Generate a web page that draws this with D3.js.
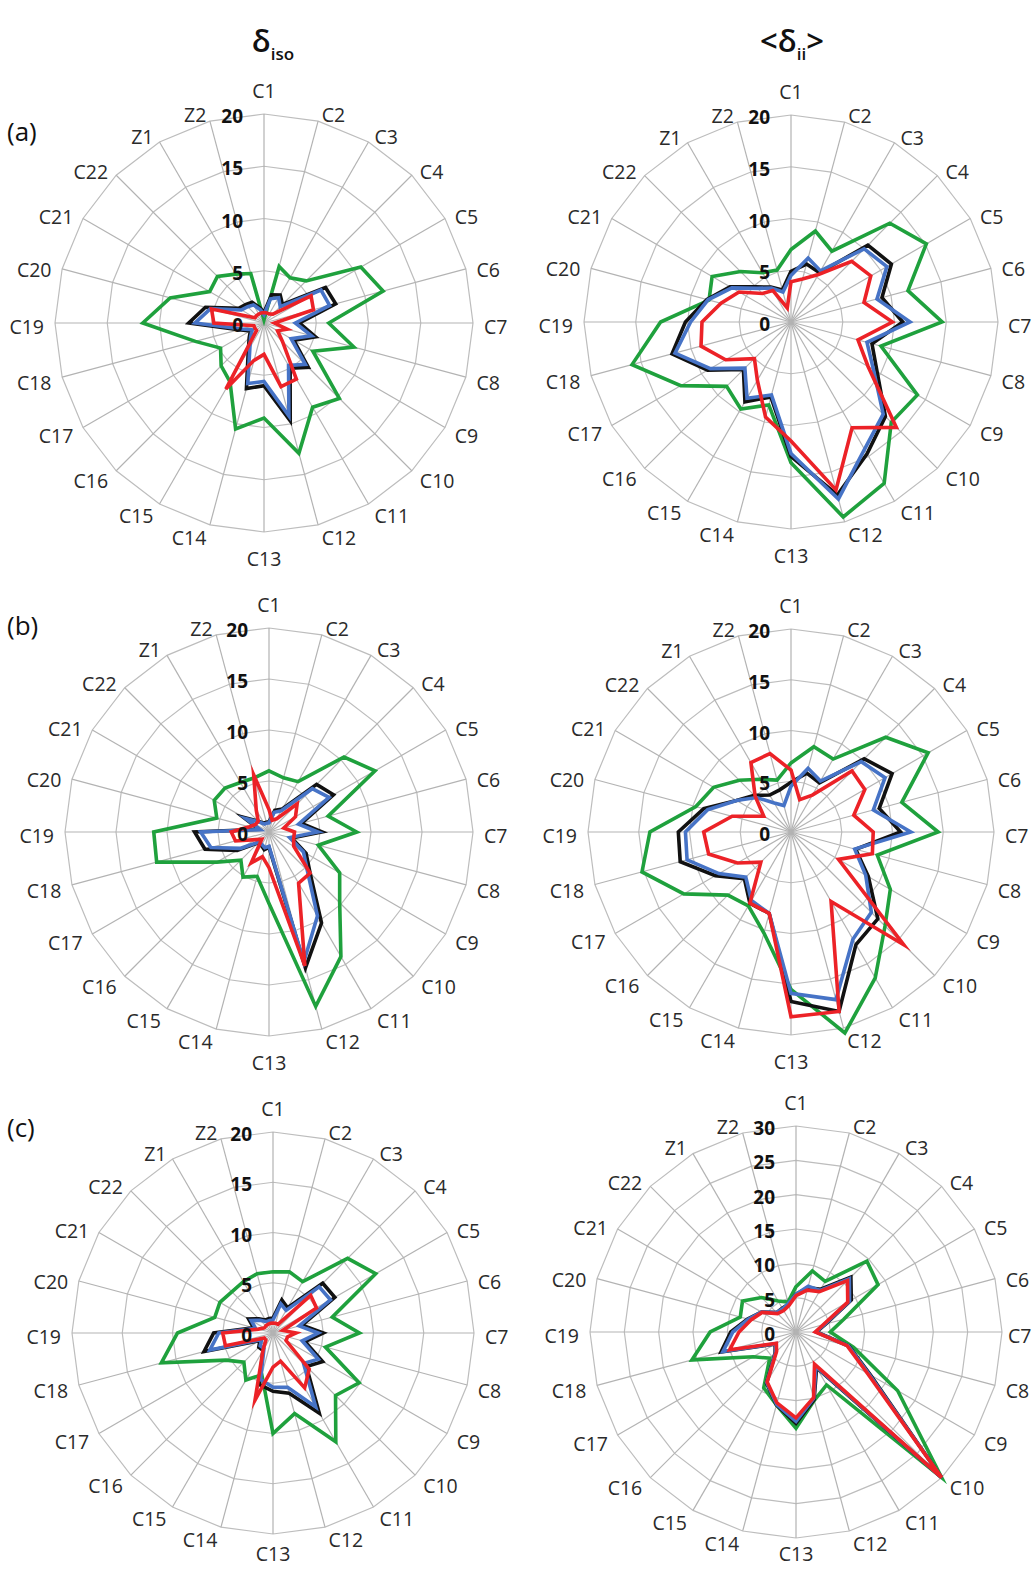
<!DOCTYPE html>
<html><head><meta charset="utf-8">
<script src="https://cdn.jsdelivr.net/npm/d3@7"></script>
<style>body{margin:0;background:#fff} svg{display:block}</style>
</head><body>
<svg id="chart" width="1035" height="1573"></svg>
<script>
// ---------- categories & ticks ----------
const categories = ["C1","C2","C3","C4","C5","C6","C7","C8","C9","C10","C11","C12","C13","C14","C15","C16","C17","C18","C19","C20","C21","C22","Z1","Z2"];
const ticks20 = [0,5,10,15,20];
const ticks30 = [0,5,10,15,20,25,30];
const seriesOrder = ["green","black","blue","red"];
const seriesColors = {green:"#1fa13d", black:"#111111", blue:"#4673c6", red:"#ec2227"};
const panelLabels = ["(a)","(b)","(c)"];

// ---------- (a) delta_iso ----------
const isoA_green = [0.3,5.6,5.0,5.7,10.7,11.8,6.2,8.9,5.4,10.2,9.3,12.9,9.1,10.5,6.5,5.8,4.8,6.8,11.6,9.3,6.0,6.3,5.4,4.9];
const isoA_black = [1.0,2.8,3.1,2.5,6.8,7.1,3.4,5.1,3.3,6.0,5.0,9.7,6.0,6.5,3.0,2.0,1.5,2.5,7.2,5.8,2.8,2.5,2.3,1.5];
const isoA_blue  = [0.8,2.4,2.8,2.2,6.3,6.5,3.0,4.7,3.0,5.6,4.7,9.2,5.6,6.0,2.7,1.8,1.3,2.2,6.6,5.3,2.5,2.2,2.0,1.3];
const isoA_red   = [1.0,1.0,1.0,1.2,5.2,4.9,1.0,2.3,1.5,2.5,6.2,6.3,3.0,3.7,7.3,1.0,1.0,1.0,4.8,5.2,1.0,1.0,1.0,1.0];
// ---------- (a) <delta_ii> ----------
const iiA_green = [7.0,9.1,7.9,13.5,15.1,11.7,14.6,9.0,14.1,13.7,18.0,19.5,13.6,8.3,9.7,8.8,12.3,15.9,12.6,8.2,8.8,6.9,5.5,5.2];
const iiA_black = [4.9,5.8,5.5,10.5,11.2,9.1,10.8,8.1,9.6,12.9,14.7,17.3,13.0,7.5,8.9,6.5,9.3,11.9,10.2,8.4,6.8,4.8,3.9,3.2];
const iiA_blue  = [4.5,6.4,5.7,10.0,10.7,8.6,11.5,7.6,9.2,12.6,14.2,17.7,12.7,7.3,8.5,6.3,9.0,11.6,9.7,8.3,6.6,4.6,3.8,3.0];
const iiA_red   = [3.9,4.3,5.3,8.3,8.9,7.3,9.8,6.7,8.6,14.4,11.8,16.8,11.5,9.5,6.5,5.0,7.3,9.0,8.6,7.0,5.8,3.9,3.5,1.4];
// ---------- (b) delta_iso ----------
const isoB_green = [6.0,5.5,5.7,10.4,12.0,6.0,8.6,5.0,8.0,9.8,14.1,17.7,7.0,4.5,5.1,3.9,5.9,11.4,11.3,5.3,6.2,6.1,5.6,5.5];
const isoB_black = [1.0,2.2,2.6,6.6,7.3,3.3,5.2,2.3,4.2,5.7,10.3,13.8,1.5,1.8,1.5,1.5,3.6,6.5,7.3,1.0,2.9,1.5,1.0,1.0];
const isoB_blue  = [0.9,2.0,2.4,6.0,6.8,3.0,4.8,2.1,3.9,5.3,9.5,13.2,1.4,1.6,1.4,1.4,3.2,5.9,6.7,0.9,2.6,1.4,0.9,0.9];
const isoB_red   = [2.2,1.2,1.5,3.9,3.0,1.5,2.5,2.5,2.8,5.7,5.8,13.6,3.5,2.5,3.5,1.0,1.5,3.4,3.7,2.0,1.5,1.5,2.5,5.8];
// ---------- (b) <delta_ii> ----------
const iiB_green = [6.8,8.7,8.3,13.2,15.6,11.3,14.5,8.8,11.3,13.1,16.6,20.5,15.5,10.3,8.4,8.8,12.2,15.2,13.9,9.7,8.8,7.2,6.0,5.3];
const iiB_black = [4.9,6.0,5.6,10.2,11.5,9.0,10.8,6.6,8.8,12.1,12.8,18.3,16.7,8.3,8.1,6.5,8.6,11.3,11.1,8.9,6.2,5.1,4.2,4.3];
const iiB_blue  = [4.5,6.5,5.8,9.8,10.7,8.4,11.8,6.5,8.5,11.2,12.2,17.1,15.9,8.3,7.8,6.3,8.2,10.6,10.4,8.5,6.2,4.8,3.3,2.7];
const iiB_red   = [6.1,3.3,4.2,8.5,8.4,6.4,8.1,8.3,5.4,15.7,7.9,18.3,18.2,8.3,8.1,4.2,6.1,8.4,8.6,6.0,3.1,5.0,7.9,8.0];
// ---------- (c) delta_iso ----------
const isoC_green = [6.1,6.3,5.9,10.5,11.8,6.1,8.6,5.4,9.9,8.8,12.5,8.3,10.0,4.3,5.4,4.1,5.4,11.5,9.5,6.0,6.1,5.8,5.9,6.1];
const isoC_black = [1.5,3.4,2.9,7.0,7.1,3.0,5.0,3.3,5.7,4.7,9.2,6.2,5.8,5.3,2.0,2.0,1.5,7.1,5.9,2.0,2.8,2.0,1.5,1.5];
const isoC_blue  = [1.3,3.0,2.6,6.5,6.6,2.7,4.5,3.0,5.2,4.3,8.5,5.6,5.4,4.8,1.8,1.8,1.3,6.5,5.4,1.8,2.5,1.8,1.3,1.3];
const isoC_red   = [1.0,1.0,1.0,5.3,5.0,1.0,2.3,1.5,1.5,5.1,6.3,2.9,3.4,6.9,2.0,1.0,1.0,4.9,5.0,1.5,1.0,1.0,1.0,1.0];
// ---------- (c) <delta_ii> ----------
const iiC_green = [6.6,9.2,8.5,14.6,13.8,7.2,5.0,8.7,17.1,30,8.9,10.3,14.0,11.0,9.4,5.4,7.2,15.7,12.5,8.4,9.0,7.1,5.2,4.5];
const iiC_black = [5.5,6.7,7.2,11.3,9.3,4.5,3.0,8.0,12.5,30,6.0,10.2,13.3,11.0,8.6,4.3,3.5,11.3,9.5,7.3,5.8,4.0,4.0,4.2];
const iiC_blue  = [5.5,6.9,7.0,11.0,9.0,4.3,2.9,7.9,12.3,30,5.8,10.0,13.0,10.9,8.5,4.2,3.4,11.0,9.2,7.2,5.8,4.0,3.9,4.3];
const iiC_red   = [5.3,6.3,6.8,10.6,8.7,4.1,2.8,7.7,12.0,30,5.4,9.9,12.5,10.7,8.4,4.0,3.3,10.0,8.3,6.8,5.7,3.8,3.6,4.0];

// ---------- layout ----------
const panels = [
  {cx:264, cy:323, R:209, ticks:ticks20, data:{green:isoA_green,black:isoA_black,blue:isoA_blue,red:isoA_red}},
  {cx:791, cy:322, R:207, ticks:ticks20, data:{green:iiA_green,black:iiA_black,blue:iiA_blue,red:iiA_red}},
  {cx:269, cy:832, R:204, ticks:ticks20, data:{green:isoB_green,black:isoB_black,blue:isoB_blue,red:isoB_red}},
  {cx:791, cy:832, R:203, ticks:ticks20, data:{green:iiB_green,black:iiB_black,blue:iiB_blue,red:iiB_red}},
  {cx:273, cy:1333, R:201, ticks:ticks20, data:{green:isoC_green,black:isoC_black,blue:isoC_blue,red:isoC_red}},
  {cx:796, cy:1332, R:206, ticks:ticks30, data:{green:iiC_green,black:iiC_black,blue:iiC_blue,red:iiC_red}}
];

const svg = d3.select("#chart");
const FONT = "'Open Sans', 'DejaVu Sans', sans-serif";
const n = categories.length;
const angle = d3.scaleLinear().domain([0, n]).range([0, 2*Math.PI]);

panels.forEach(p => {
  const max = p.ticks[p.ticks.length-1];
  const r = d3.scaleLinear().domain([0, max]).range([0, p.R]);
  const g = svg.append("g").attr("transform", `translate(${p.cx},${p.cy})`);
  const idx = d3.range(n);

  // rings
  const ring = d3.lineRadial().angle(i => angle(i)).curve(d3.curveLinearClosed);
  p.ticks.filter(t => t > 0).forEach(t => {
    g.append("path").attr("d", ring.radius(() => r(t))(idx))
      .attr("fill","none").attr("stroke","#bdbdbd").attr("stroke-width",1.2);
  });
  // spokes
  g.selectAll("line.spoke").data(idx).join("line")
    .attr("x1",0).attr("y1",0)
    .attr("x2", i => r(max)*Math.sin(angle(i)))
    .attr("y2", i => -r(max)*Math.cos(angle(i)))
    .attr("stroke","#b3b3b3").attr("stroke-width",1.2);

  // series
  const line = d3.lineRadial().angle((d,i) => angle(i)).radius(d => r(d)).curve(d3.curveLinearClosed);
  seriesOrder.forEach(s => {
    g.append("path").attr("d", line(p.data[s]))
      .attr("fill","none").attr("stroke", seriesColors[s])
      .attr("stroke-width",3.6).attr("stroke-linejoin","miter").attr("stroke-miterlimit",6);
  });

  // tick labels
  g.selectAll("text.tick").data(p.ticks).join("text")
    .attr("x", -21).attr("y", t => -r(t) + 2)
    .attr("text-anchor","end").attr("dominant-baseline","central")
    .style("font-family",FONT).style("font-size","19px").style("font-weight","bold")
    .attr("fill","#111").text(t => t);

  // category labels
  categories.forEach((c,i) => {
    const th = angle(i);
    const s = Math.sin(th), co = Math.cos(th);
    const P = p.R + 10;
    const px = P*s, py = -P*co;
    const t = g.append("text").text(c)
      .style("font-family",FONT).style("font-size","19.5px").attr("fill","#2a2a2a");
    if (Math.abs(s) < 0.05) {
      t.attr("text-anchor","middle").attr("x", px);
      if (co > 0) t.attr("y", py - 6);
      else t.attr("y", Math.min(py + 24, 1561 - p.cy));
    } else {
      t.attr("text-anchor", s > 0 ? "start" : "end")
       .attr("x", Math.min(px + (s > 0 ? 1 : -1), s > 0 ? 1008 - p.cx : 1e9))
       .attr("y", Math.min(py + 3, 1558 - p.cy)).attr("dominant-baseline","central");
    }
  });
});

// column titles
function title(x, y, parts) {
  const t = svg.append("text").attr("x", x).attr("y", y).attr("text-anchor","middle")
    .style("font-family",FONT).style("font-weight","600").attr("fill","#111");
  parts.forEach(pt => {
    const ts = t.append("tspan").text(pt.text).style("font-size", pt.size+"px");
    if (pt.dy) ts.attr("dy", pt.dy);
  });
}
title(273, 52, [{text:"δ", size:31},{text:"iso", size:17, dy:8}]);
title(792, 52, [{text:"<δ", size:31},{text:"ii", size:17, dy:8},{text:">", size:31, dy:-8}]);

// panel labels
const labelY = [131, 625, 1127];
panelLabels.forEach((l,i) => {
  svg.append("text").attr("x", 7).attr("y", labelY[i]).attr("dominant-baseline","central")
    .style("font-family",FONT).style("font-size","26px").attr("fill","#111").text(l);
});
</script>
</body></html>
